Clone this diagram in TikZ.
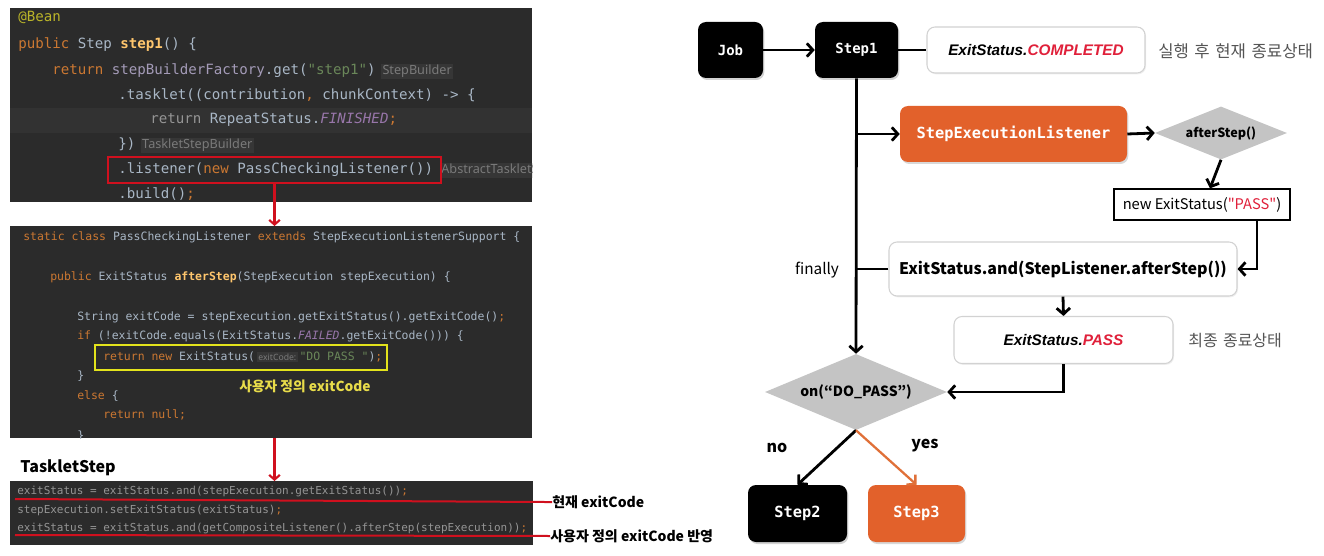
\documentclass[tikz,border=0pt]{standalone}
\usepackage{fontspec}
\setmainfont{Noto Sans CJK KR}[Ligatures=TeXOff]
\newfontfamily\mono{DejaVu Sans Mono}
\newfontfamily\latsans{Noto Sans}
\newfontfamily\arialish{Liberation Sans}[Ligatures=TeXOff]
\usetikzlibrary{arrows.meta,shapes.geometric,shadows,calc}
\definecolor{codebg}{HTML}{2B2B2B}
\definecolor{codehl}{HTML}{323232}
\definecolor{ckw}{HTML}{CC7832}
\definecolor{cfn}{HTML}{FFC66D}
\definecolor{cid}{HTML}{A9B7C6}
\definecolor{cstr}{HTML}{6A8759}
\definecolor{cconst}{HTML}{9876AA}
\definecolor{cfield}{HTML}{A49BB8}
\definecolor{cann}{HTML}{BBB529}
\definecolor{chint}{HTML}{7A7A7A}
\definecolor{chintbg}{HTML}{363636}
\definecolor{cred}{HTML}{D0101E}
\definecolor{cyel}{HTML}{E3E31C}
\definecolor{cyeltext}{HTML}{E8DC4A}
\definecolor{corange}{HTML}{E2612B}
\definecolor{corarrow}{HTML}{E07038}
\definecolor{cdia}{HTML}{C4C4C4}
\definecolor{cpass}{HTML}{E0203A}
\definecolor{ckrgray}{HTML}{555555}
\definecolor{cdim}{HTML}{959595}
\definecolor{cboxline}{HTML}{D2D2D2}
\newcommand\cK[1]{\textcolor{ckw}{#1}}
\newcommand\cF[1]{\textcolor{cfn}{\bfseries #1}}
\newcommand\cStr[1]{\textcolor{cstr}{#1}}
\newcommand\cC[1]{\textcolor{cconst}{\itshape #1}}
\newcommand\cP[1]{\textcolor{cfield}{#1}}
\newcommand\hintA[1]{{\setlength\fboxsep{1.2pt}\colorbox{chintbg}{\latsans\fontsize{9.5}{10}\selectfont\textcolor{chint}{#1}}}}
\newcommand\hintB[1]{{\setlength\fboxsep{1pt}\colorbox{chintbg}{\latsans\fontsize{6.5}{7}\selectfont\textcolor{chint}{#1}}}}
\tikzset{
  codeA/.style={anchor=west, inner sep=0pt, text height=7.8pt, text depth=2.2pt, text=cid, font=\mono\fontsize{10.6}{12}\selectfont},
  codeB/.style={anchor=west, inner sep=0pt, text height=6.4pt, text depth=1.8pt, text=cid, font=\mono\fontsize{8.6}{10}\selectfont},
  codeC/.style={anchor=west, inner sep=0pt, text height=6.2pt, text depth=1.7pt, text=cdim, font=\mono\fontsize{8.25}{10}\selectfont},
  blackbox/.style={rectangle, rounded corners=6pt, fill=black, text=white, inner sep=0pt,
     font=\mono\bfseries\fontsize{10.5}{12}\selectfont, drop shadow={shadow xshift=1pt, shadow yshift=-1.5pt, opacity=0.35}},
  orangebox/.style={rectangle, rounded corners=6pt, fill=corange, text=white, inner sep=0pt,
     font=\mono\bfseries\fontsize{11.5}{13}\selectfont, drop shadow={shadow xshift=1pt, shadow yshift=-1.5pt, opacity=0.3}},
  whitebox/.style={rectangle, rounded corners=6pt, fill=white, draw=cboxline, line width=0.8pt, inner sep=0pt,
     drop shadow={shadow xshift=0.8pt, shadow yshift=-1pt, opacity=0.12}},
  graydia/.style={diamond, fill=cdia, inner sep=0pt, font=\bfseries\fontsize{9.5}{11}\selectfont},
  flow/.style={line width=2.1pt, -{Straight Barb[length=4.5pt, width=10pt]}},
  link/.style={line width=2.1pt},
  redarrow/.style={cred, line width=1.6pt, -{Straight Barb[length=3.5pt, width=8pt]}},
  lbl/.style={inner sep=0pt, font=\fontsize{11.5}{13}\selectfont},
}
\begin{document}
\begin{tikzpicture}[x=0.75pt, y=-0.75pt]
\useasboundingbox (0,0) rectangle (1324,556);
\fill[white] (0,0) rectangle (1324,556);

% ---------- panel 1 ----------
\fill[codebg] (10,8) rectangle (532,202);
\fill[codehl] (10,108) rectangle (532,133);
\begin{scope}
\clip (10,8) rectangle (532,202);
\node[codeA] (a1) at (18,18) {\textcolor{cann}{@Bean}};
\node[codeA] (a2) at (18,45) {\cK{public} Step \cF{step1}() \{};
\node[codeA] (a3) at (52,71) {\cK{return} \cP{stepBuilderFactory}.get(\cStr{"step1"})\hspace{4pt}\hintA{StepBuilder}};
\node[codeA] (a4) at (118,96) {.tasklet((contribution\cK{,} chunkContext) -> \{};
\node[codeA] (a5) at (150,120) {\textcolor{cdim}{return} RepeatStatus.\cC{FINISHED}\cK{;}};
\node[codeA] (a6) at (118,145) {\})\hspace{4pt}\hintA{TaskletStepBuilder}};
\node[codeA] (a7) at (118,170) {.listener(\cK{new} PassCheckingListener())\hspace{5pt}\hintA{AbstractTaskletStepBuilder}};
\node[codeA] (a8) at (118,195) {.build()\cK{;}};
\end{scope}
\node[draw=cred, line width=1.6pt, rectangle, inner sep=0pt, minimum width=249.75pt, minimum height=19.5pt] (lbox) at (274.5,170) {};

% ---------- panel 2 ----------
\fill[codebg] (10,226) rectangle (532,438);
\coordinate (p2top) at (274.5,226);
\coordinate (p2bot) at (274.5,438);
\begin{scope}
\clip (10,226) rectangle (532,438);
\node[codeB] (b1) at (23,237) {\cK{static class} PassCheckingListener \cK{extends} StepExecutionListenerSupport \{};
\node[codeB] (b2) at (50,277) {\cK{public} ExitStatus \cF{afterStep}(StepExecution stepExecution) \{};
\node[codeB] (b3) at (77,317) {String exitCode = stepExecution.getExitStatus().getExitCode()\cK{;}};
\node[codeB] (b4) at (77,336) {\cK{if} (!exitCode.equals(ExitStatus.\cC{FAILED}.getExitCode())) \{};
\node[codeB] (b5) at (103,357) {\cK{return new} ExitStatus(\,\hintB{exitCode:}\,\cStr{"DO PASS "})\cK{;}};
\node[codeB] (b6) at (77,376) {\}};
\node[codeB] (b7) at (77,396) {\cK{else} \{};
\node[codeB] (b8) at (103,415) {\cK{return null;}};
\node[codeB] (b9) at (77,436) {\}};
\end{scope}
\node[draw=cyel, line width=1.6pt, rectangle, inner sep=0pt, minimum width=219pt, minimum height=18.75pt] (ybox) at (241,357.5) {};
\node[inner sep=0pt, text=cyeltext, font=\bfseries\fontsize{10.3}{12}\selectfont] (ylbl) at (305,386) {사용자 정의 exitCode};

% ---------- panel 3 ----------
\node[anchor=west, inner sep=0pt, font=\bfseries\fontsize{12}{14}\selectfont] (tstep) at (20,468) {TaskletStep};
\fill[codebg] (10,481) rectangle (533,545);
\coordinate (p3top) at (274.5,481);
\node[codeC] (c1) at (17,491) {exitStatus = exitStatus.and(stepExecution.getExitStatus())\cK{;}};
\node[codeC] (c2) at (17,510) {stepExecution.setExitStatus(exitStatus)\cK{;}};
\node[codeC] (c3) at (17,528) {exitStatus = exitStatus.and(getCompositeListener().afterStep(stepExecution))\cK{;}};
\node[anchor=west, inner sep=0pt, font=\bfseries\fontsize{10.5}{12}\selectfont] (cur) at (552,502) {현재 exitCode};
\node[anchor=west, inner sep=0pt, font=\bfseries\fontsize{10.5}{12}\selectfont] (usr) at (550,536) {사용자 정의 exitCode 반영};
\draw[cred, line width=1.5pt] (15,499) -- (545,502) -- (cur.west);
\draw[cred, line width=1.5pt] (15,535) -- (usr.west);

\draw[redarrow] (lbox.south) -- (p2top);
\draw[redarrow] (p2bot) -- (p3top);

% ---------- flowchart ----------
\node[blackbox, minimum width=48.75pt, minimum height=42pt] (job) at (730.5,50) {Job};
\node[blackbox, minimum width=62.25pt, minimum height=42pt] (step1) at (856.5,50) {Step1};
\node[whitebox, minimum width=163.5pt, minimum height=34.5pt, font=\arialish\bfseries\itshape\fontsize{11.5}{13}\selectfont] (completed) at (1036,50) {ExitStatus.\textcolor{cpass}{COMPLETED}};
\node[anchor=west, inner sep=0pt, text=ckrgray, font=\fontsize{12.5}{14}\selectfont] (kr1) at (1158,51) {실행\,\,후\,\,현재\,\,종료상태};

\node[orangebox, minimum width=170.25pt, minimum height=42pt] (sel) at (1013.5,134) {StepExecutionListener};
\node[graydia, aspect=2.49, minimum width=99pt, minimum height=39.75pt] (after) at (1221,133) {afterStep()};
\node[rectangle, draw=black, line width=1pt, fill=white, inner sep=0pt, minimum width=132pt, minimum height=23.25pt, font=\fontsize{11}{13}\selectfont] (newes) at (1202,204.5) {new ExitStatus(\textcolor{cpass}{"PASS"})};

\node[whitebox, minimum width=261pt, minimum height=40.5pt, font=\bfseries\fontsize{12}{14}\selectfont] (and) at (1063,269) {ExitStatus.and(StepListener.afterStep())};
\node[whitebox, minimum width=164.25pt, minimum height=35.25pt, font=\arialish\bfseries\itshape\fontsize{11.5}{13}\selectfont] (pass) at (1063.5,340) {ExitStatus.\textcolor{cpass}{PASS}};
\node[anchor=west, inner sep=0pt, text=ckrgray, font=\fontsize{12}{14}\selectfont] (kr2) at (1188,341) {최종\,\,종료상태};

\node[graydia, aspect=2.39, minimum width=136.5pt, minimum height=57pt, font=\bfseries\fontsize{10.5}{12}\selectfont] (on) at (856,392) {on(“DO\_PASS”)};
\node[blackbox, minimum width=74.25pt, minimum height=42.75pt, font=\mono\bfseries\fontsize{11.5}{13}\selectfont] (step2) at (797.5,513.5) {Step2};
\node[orangebox, minimum width=72.75pt, minimum height=42.75pt] (step3) at (916.5,513.5) {Step3};

\node[lbl] (fin) at (817,270) {finally};
\node[lbl, font=\bfseries\fontsize{12}{14}\selectfont] (no) at (777,448) {no};
\node[lbl, font=\bfseries\fontsize{12}{14}\selectfont] (yes) at (925,446) {yes};

\draw[flow] (job.east) -- (step1.west);
\draw[link] (step1.east) -- (completed.west);
\draw[flow] (step1.south) -- (on.north);
\draw[flow] (step1.south |- sel.west) -- (sel.west);
\draw[flow] (sel.east) -- (after.west);
\draw[flow] (after.south) -- ($(newes.north)+(8,0)$);
\draw[flow] ($(newes.south)+(55,0)$) |- (and.east);
\draw[link] (and.west) -- (step1.south |- and.west);
\draw[flow] (and.south) -- (pass.north);
\draw[flow] (pass.south) |- (on.east);
\draw[flow] (on.south) -- (step2.north);
\draw[line width=1.7pt, corarrow, -{Straight Barb[length=4.5pt, width=10pt]}] (on.south) -- (step3.north);
\end{tikzpicture}
\end{document}
